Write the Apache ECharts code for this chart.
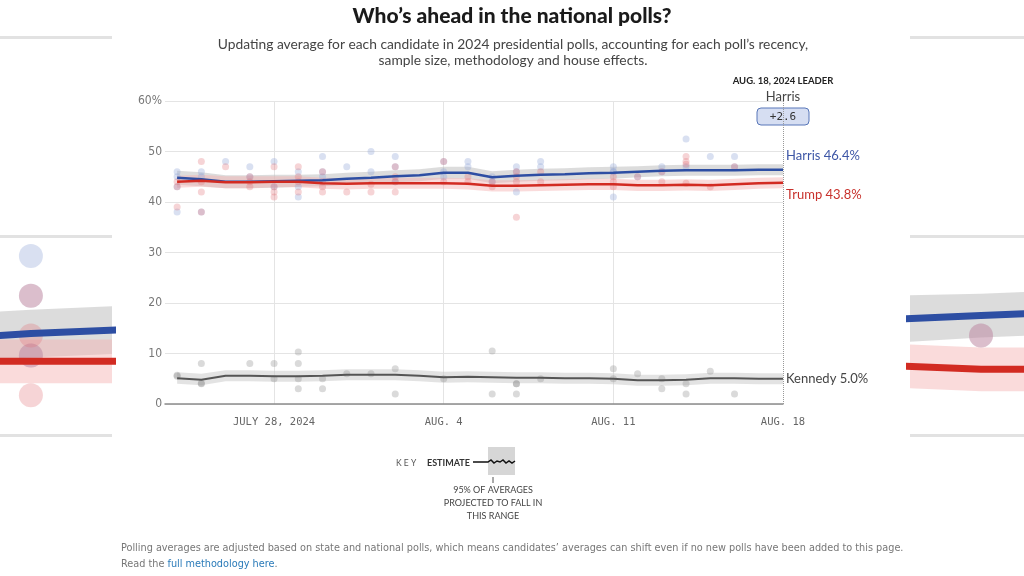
<!DOCTYPE html>
<html><head><meta charset="utf-8">
<script src="https://cdn.jsdelivr.net/npm/echarts@6/dist/echarts.min.js"></script>
<style>html,body{margin:0;padding:0;background:#fff}#c{width:1024px;height:576px}</style>
</head><body><div id="c"></div>
<script>
const days = ['2024-07-24','2024-07-25','2024-07-26','2024-07-27','2024-07-28','2024-07-29','2024-07-30','2024-07-31','2024-08-01','2024-08-02','2024-08-03','2024-08-04','2024-08-05','2024-08-06','2024-08-07','2024-08-08','2024-08-09','2024-08-10','2024-08-11','2024-08-12','2024-08-13','2024-08-14','2024-08-15','2024-08-16','2024-08-17','2024-08-18'];
const harrisAvg = [44.8,44.5,44.0,44.0,44.1,44.2,44.3,44.6,44.8,45.1,45.3,45.8,45.8,44.9,45.2,45.4,45.5,45.7,45.8,46.0,46.2,46.3,46.3,46.3,46.4,46.4];
const harrisHi  = [46.2,45.9,45.3,45.3,45.4,45.4,45.5,45.8,46.0,46.3,46.5,47.0,47.0,46.1,46.4,46.6,46.7,46.9,47.0,47.1,47.3,47.4,47.4,47.4,47.5,47.5];
const harrisLo  = [43.4,43.1,42.7,42.7,42.8,43.0,43.1,43.4,43.6,43.9,44.1,44.6,44.6,43.7,44.0,44.2,44.3,44.5,44.6,44.9,45.1,45.2,45.2,45.2,45.3,45.3];
const trumpAvg  = [44.0,44.2,43.9,43.9,44.0,44.0,43.7,43.6,43.7,43.7,43.7,43.7,43.6,43.2,43.2,43.3,43.4,43.5,43.5,43.3,43.3,43.4,43.3,43.5,43.7,43.8];
const trumpHi   = [45.2,45.4,45.1,45.1,45.1,45.1,44.8,44.7,44.8,44.8,44.8,44.8,44.7,44.3,44.3,44.4,44.5,44.6,44.6,44.4,44.4,44.5,44.4,44.6,44.8,44.9];
const trumpLo   = [42.8,43.0,42.7,42.7,42.9,42.9,42.6,42.5,42.6,42.6,42.6,42.6,42.5,42.1,42.1,42.2,42.3,42.4,42.4,42.2,42.2,42.3,42.2,42.4,42.6,42.7];
const kennedyAvg= [5.1,4.8,5.6,5.6,5.5,5.5,5.6,5.8,5.8,5.8,5.6,5.3,5.4,5.3,5.2,5.2,5.1,5.1,5.0,4.7,4.7,4.8,5.1,5.1,5.0,5.0];
const kennedyHi = [6.3,6.0,6.7,6.7,6.6,6.6,6.7,6.9,6.9,6.9,6.7,6.4,6.5,6.4,6.3,6.3,6.2,6.2,6.1,5.8,5.8,5.9,6.2,6.2,6.1,6.1];
const kennedyLo = [4.0,3.7,4.5,4.5,4.4,4.4,4.5,4.7,4.7,4.7,4.5,4.2,4.3,4.2,4.1,4.1,4.0,4.0,3.9,3.6,3.6,3.7,4.0,4.0,3.9,3.9];

const harrisPolls = [['2024-07-24',46],['2024-07-24',45],['2024-07-24',43],['2024-07-24',38],
['2024-07-25',46],['2024-07-25',45],['2024-07-25',38],['2024-07-26',48],['2024-07-27',47],['2024-07-27',45],
['2024-07-28',48],['2024-07-28',43],['2024-07-29',46],['2024-07-29',43],['2024-07-29',41],
['2024-07-30',49],['2024-07-30',46],['2024-07-30',45],['2024-07-31',47],['2024-08-01',50],['2024-08-01',46],
['2024-08-02',49],['2024-08-02',47],['2024-08-02',44],['2024-08-04',48],['2024-08-04',46],['2024-08-04',45],
['2024-08-05',48],['2024-08-05',47],['2024-08-06',45],['2024-08-06',44],['2024-08-07',47],['2024-08-07',46],['2024-08-07',42],
['2024-08-08',48],['2024-08-08',47],['2024-08-11',47],['2024-08-11',46],['2024-08-11',46],['2024-08-11',41],
['2024-08-12',45],['2024-08-13',47],['2024-08-13',46],['2024-08-14',52.5],['2024-08-14',47],['2024-08-15',49],
['2024-08-16',49],['2024-08-16',47]];
const trumpPolls = [['2024-07-24',44],['2024-07-24',43],['2024-07-24',39],
['2024-07-25',48],['2024-07-25',44],['2024-07-25',42],['2024-07-25',38],['2024-07-26',47],
['2024-07-27',45],['2024-07-27',44],['2024-07-27',43],['2024-07-28',47],['2024-07-28',43],['2024-07-28',42],['2024-07-28',41],
['2024-07-29',47],['2024-07-29',45],['2024-07-29',44],['2024-07-29',42],['2024-07-30',46],['2024-07-30',44],['2024-07-30',43],['2024-07-30',42],
['2024-07-31',42],['2024-08-01',43.5],['2024-08-01',42],['2024-08-02',47],['2024-08-02',45],['2024-08-02',44],['2024-08-02',42],
['2024-08-04',48],['2024-08-04',44],['2024-08-05',45],['2024-08-05',44],['2024-08-06',44],['2024-08-06',43],
['2024-08-07',46],['2024-08-07',45],['2024-08-07',44],['2024-08-07',37],['2024-08-08',46],['2024-08-08',44],
['2024-08-11',45],['2024-08-11',44],['2024-08-11',43],['2024-08-12',45],['2024-08-13',46],['2024-08-13',44],
['2024-08-14',49],['2024-08-14',48],['2024-08-14',47.5],['2024-08-14',43.7],['2024-08-15',43],['2024-08-16',47]];
const kennedyPolls = [['2024-07-24',5.7],['2024-07-24',5.5],['2024-07-25',8],['2024-07-25',4.1],['2024-07-25',4],
['2024-07-27',8],['2024-07-28',8],['2024-07-28',5],['2024-07-29',10.3],['2024-07-29',8],['2024-07-29',5],['2024-07-29',3],
['2024-07-30',5],['2024-07-30',3],['2024-07-31',6],['2024-08-01',6],['2024-08-02',7],['2024-08-02',2],['2024-08-04',5],
['2024-08-06',10.5],['2024-08-06',2],['2024-08-07',4],['2024-08-07',4],['2024-08-07',2],['2024-08-08',5],
['2024-08-11',7],['2024-08-11',5],['2024-08-12',6],['2024-08-13',5],['2024-08-13',3],['2024-08-14',4],['2024-08-14',2],
['2024-08-15',6.5],['2024-08-16',2]];

const xLabelDates = ['2024-07-28','2024-08-04','2024-08-11','2024-08-18'];
const xGridDates = ['2024-07-28','2024-08-04','2024-08-11'];
const leaderDate = '2024-08-18';
const leftZoomDay = '2024-08-02';
const rightZoomDay = '2024-08-12';

const EPOCH = Date.UTC(2024,6,21);
const DN = s => { const p = s.split('-').map(Number); return Math.round((Date.UTC(p[0],p[1]-1,p[2]) - EPOCH)/86400000); };
const DN2S = n => new Date(EPOCH + n*86400000);
const pair = arr => days.map((d,i)=>[DN(d),arr[i]]);
const pts = arr => arr.map(p=>[DN(p[0]), p[1]]);

const C = {harris:'#2d4ea3', trump:'#d22b22', kennedy:'#555555'};

function bandSeries(lo, hi, color, grid){
  const hiPts = pair(hi), loPts = pair(lo).reverse();
  return {type:'custom', xAxisIndex:grid, yAxisIndex:grid, data:[hiPts[0]], clip:true, silent:true, z:1,
    renderItem:(params, api)=>({type:'polygon', shape:{points:hiPts.map(p=>api.coord(p)).concat(loPts.map(p=>api.coord(p)))}, style:{fill:color}})};
}
function dotSeries(data, color, size, grid){
  return {type:'scatter', xAxisIndex:grid, yAxisIndex:grid, data:pts(data), symbolSize:size, itemStyle:{color:color}, silent:true, z:2, clip:true};
}
function lineSeries(arr, color, width, grid, extra){
  return Object.assign({type:'line', xAxisIndex:grid, yAxisIndex:grid, data:pair(arr), symbol:'none', lineStyle:{color:color,width:width}, silent:true, z:3, clip:true}, extra||{});
}

const HDOT = 'rgba(150,168,215,0.45)', TDOT = 'rgba(225,115,120,0.38)', KDOT = 'rgba(140,140,140,0.4)';
const HBAND = 'rgba(185,185,185,0.5)', TBAND = 'rgba(245,175,175,0.45)', KBAND = 'rgba(200,200,200,0.5)';
const labelFont = "Lato, 'Open Sans', sans-serif";
const narrow = "'Liberation Sans Narrow', 'DejaVu Sans Condensed', sans-serif";

const series = [];
series.push(bandSeries(harrisLo, harrisHi, HBAND, 0));
series.push(bandSeries(trumpLo, trumpHi, TBAND, 0));
series.push(bandSeries(kennedyLo, kennedyHi, KBAND, 0));
series.push(dotSeries(harrisPolls, HDOT, 7, 0));
series.push(dotSeries(trumpPolls, TDOT, 7, 0));
series.push(dotSeries(kennedyPolls, KDOT, 7, 0));
series.push(lineSeries(harrisAvg, C.harris, 2.5, 0, {
  endLabel:{show:true, formatter:p=>'Harris '+p.value[1].toFixed(1)+'%', color:'#3d56a6', fontSize:13, fontFamily:labelFont, distance:3, offset:[0,-14]},
  markLine:{silent:true, symbol:'none', label:{show:false}, lineStyle:{type:'dotted', color:'#999', width:1}, data:[{xAxis:DN(leaderDate)}]}
}));
series.push(lineSeries(trumpAvg, C.trump, 2.5, 0, {
  endLabel:{show:true, formatter:p=>'Trump '+p.value[1].toFixed(1)+'%', color:'#c8312c', fontSize:13, fontFamily:labelFont, distance:3, offset:[0,12]}
}));
series.push(lineSeries(kennedyAvg, C.kennedy, 2, 0, {
  endLabel:{show:true, formatter:p=>'Kennedy '+p.value[1].toFixed(1)+'%', color:'#444', fontSize:13, fontFamily:labelFont, distance:3, offset:[0,0]}
}));
[1,2].forEach(g=>{
  series.push(bandSeries(harrisLo, harrisHi, HBAND, g));
  series.push(bandSeries(trumpLo, trumpHi, TBAND, g));
  series.push(dotSeries(harrisPolls, HDOT, 24, g));
  series.push(dotSeries(trumpPolls, TDOT, 24, g));
  series.push(lineSeries(harrisAvg, C.harris, 7, g));
  series.push(lineSeries(trumpAvg, C.trump, 7, g));
});

const hidden = {show:false};
const sideY = g => ({type:'value', gridIndex:g, min:40, max:60, interval:10, axisLabel:hidden, axisLine:hidden, axisTick:hidden, splitLine:{lineStyle:{color:'#e2e2e2', width:3}}});
const sideX = (g, day, before, after) => ({type:'value', gridIndex:g, min:DN(day)-before, max:DN(day)+after, axisLabel:hidden, axisLine:hidden, axisTick:hidden, splitLine:hidden});

const margin = (harrisAvg[harrisAvg.length-1] - trumpAvg[trumpAvg.length-1]).toFixed(1);

const option = {
  animation:false,
  backgroundColor:'#fff',
  grid:[
    {left:165, right:241, top:101, bottom:172},
    {left:0, width:112, top:37, height:398},
    {left:910, width:114, top:37, height:398}
  ],
  xAxis:[
    {type:'value', gridIndex:0, min:DN('2024-07-23')+0.5, max:DN('2024-08-18'),
     axisLine:{show:true, lineStyle:{color:'#8c8c8c', width:1.5}},
     axisTick:{show:false, customValues:xGridDates.map(DN)},
     splitLine:{show:true, lineStyle:{color:'#e4e4e4', width:1}},
     axisLabel:{customValues:xLabelDates.map(DN), margin:13, color:'#666', fontSize:10.5, fontFamily:"'DejaVu Sans Mono', monospace",
       formatter:v=>{const d=DN2S(v); return d.getUTCMonth()===6 ? 'JULY '+d.getUTCDate()+', 2024' : 'AUG. '+d.getUTCDate();}}},
    sideX(1, leftZoomDay, 0.32, 0.84),
    sideX(2, rightZoomDay, 0.732, 0.443)
  ],
  yAxis:[
    {type:'value', gridIndex:0, min:0, max:60, interval:10,
     axisLine:hidden, axisTick:hidden,
     splitLine:{lineStyle:{color:'#e4e4e4', width:1}},
     axisLabel:{margin:3, color:'#777', fontSize:12, fontFamily:narrow, formatter:v=>v===60?'60%':String(v)}},
    sideY(1), sideY(2)
  ],
  series:series,
  graphic:[
    {type:'text', x:512, y:16, style:{text:'Who’s ahead in the national polls?', font:"900 21px Lato, sans-serif", fill:'#1a1a1a', align:'center', verticalAlign:'middle'}},
    {type:'text', x:513, y:36, style:{text:'Updating average for each candidate in 2024 presidential polls, accounting for each poll’s recency,\nsample size, methodology and house effects.', font:"13.8px Lato, sans-serif", fill:'#444', align:'center', verticalAlign:'top', lineHeight:16.5}},
    {type:'text', x:783, y:81, style:{text:'AUG. 18, 2024 LEADER', font:"bold 9.5px Lato, sans-serif", fill:'#222', align:'center', verticalAlign:'middle'}},
    {type:'text', x:783, y:97, style:{text:'Harris', font:"13px Lato, sans-serif", fill:'#444', align:'center', verticalAlign:'middle'}},
    {type:'rect', shape:{x:757, y:108, width:52, height:17, r:4}, style:{fill:'#d6def2', stroke:'#5877b9', lineWidth:1}},
    {type:'text', x:783, y:117, style:{text:'+'+margin, font:"11px 'DejaVu Sans Mono', monospace", fill:'#333', align:'center', verticalAlign:'middle'}},
    {type:'text', x:396, y:463, style:{text:'K E Y', font:"8.5px Lato, sans-serif", fill:'#555', verticalAlign:'middle'}},
    {type:'text', x:427, y:463, style:{text:'ESTIMATE', font:"bold 9px Lato, sans-serif", fill:'#333', verticalAlign:'middle'}},
    {type:'rect', shape:{x:488, y:447, width:27, height:28}, style:{fill:'#d6d6d6'}},
    {type:'polyline', shape:{points:[[473,462],[488,462],[491,460],[494,463],[497,461],[500,462],[503,460],[506,463],[509,461],[512,463],[515,461]]}, style:{stroke:'#111', lineWidth:1.5, fill:null}},
    {type:'line', shape:{x1:493, y1:477, x2:493, y2:483}, style:{stroke:'#555', lineWidth:1}},
    {type:'text', x:493, y:484, style:{text:'95% OF AVERAGES\nPROJECTED TO FALL IN\nTHIS RANGE', font:"9px Lato, sans-serif", fill:'#444', align:'center', verticalAlign:'top', lineHeight:13}},
    {type:'text', x:121, y:548, style:{text:'Polling averages are adjusted based on state and national polls, which means candidates’ averages can shift even if no new polls have been added to this page.', font:"10.8px "+narrow, fill:'#777', verticalAlign:'middle'}},
    {type:'text', x:121, y:564, style:{text:'{a|Read the }{b|full methodology here}{a|.}', verticalAlign:'middle', rich:{a:{fontFamily:narrow, fontSize:10.8, fill:'#777'}, b:{fontFamily:narrow, fontSize:10.8, fill:'#2b7bb9'}}}}
  ]
};
const chart = echarts.init(document.getElementById('c'), null, {renderer:'canvas'});
chart.setOption(option);
</script></body></html>
